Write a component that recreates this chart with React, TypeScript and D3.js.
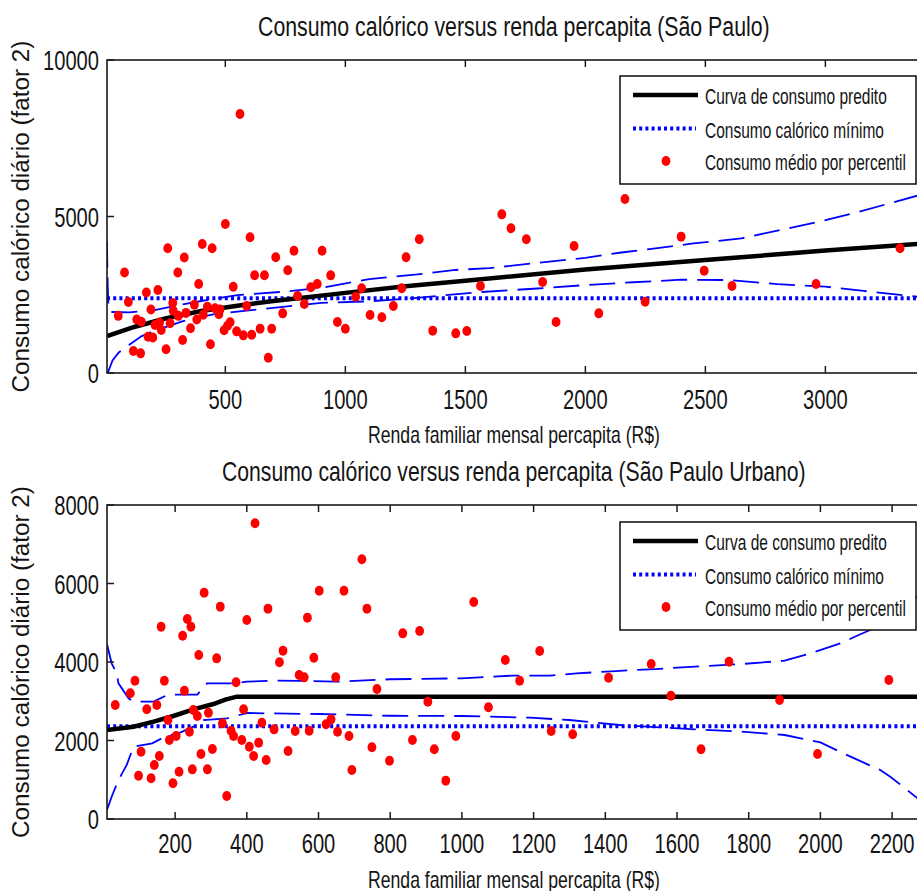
import React from 'react';
import * as d3 from 'd3';

// ---------- texts ----------
const title1 = 'Consumo calórico versus renda percapita (São Paulo)';
const title2 = 'Consumo calórico versus renda percapita (São Paulo Urbano)';
const xLabelText = 'Renda familiar mensal percapita (R$)';
const yLabelText = 'Consumo calórico diário (fator 2)';
const legendLabels = ['Curva de consumo predito', 'Consumo calórico mínimo', 'Consumo médio por percentil'];

// ---------- São Paulo (top) ----------
const spXTicks = [500, 1000, 1500, 2000, 2500, 3000];
const spYTicks = [0, 5000, 10000];
const spMinimum = 2385;
const spPredX = [7, 120, 250, 400, 550, 700, 850, 1000, 1250, 1500, 2000, 2500, 3000, 3390];
const spPredY = [1180, 1470, 1740, 1980, 2150, 2300, 2430, 2560, 2770, 2950, 3310, 3610, 3910, 4125];
const spUpX = [7, 8, 10, 13, 20, 100, 200, 300, 400, 550, 750, 900, 1100, 1300, 1450, 1600, 1800, 2000, 2150, 2300, 2450, 2650, 2800, 2970, 3140, 3390];
const spUpY = [4200, 3600, 2800, 2100, 1950, 1940, 2000, 2160, 2300, 2490, 2600, 2720, 3000, 3150, 3290, 3350, 3520, 3680, 3850, 3990, 4140, 4300, 4550, 4830, 5150, 5680];
const spLoX = [10, 20, 30, 55, 100, 150, 200, 260, 320, 380, 450, 550, 700, 900, 1100, 1300, 1550, 1800, 2000, 2200, 2400, 2600, 2800, 3000, 3150, 3390];
const spLoY = [0, 200, 400, 650, 900, 1170, 1340, 1490, 1650, 1760, 1870, 1960, 2080, 2240, 2290, 2400, 2580, 2700, 2810, 2900, 2980, 2970, 2840, 2760, 2630, 2430];
const spIncome = [561, 500, 603, 404, 445, 260, 329, 80, 302, 96, 171, 219, 389, 533, 622, 663, 710, 760, 786, 903, 939, 883, 856, 801, 829, 739, 589, 967, 1000, 1043, 1068, 1103, 1152, 1200, 1235, 1253, 1308, 1364, 1460, 54, 117, 147, 131, 150, 190, 178, 198, 207, 233, 226, 253, 270, 281, 283, 304, 322, 336, 355, 371, 381, 408, 425, 438, 457, 478, 473, 495, 509, 520, 547, 575, 610, 645, 693, 679, 1652, 1690, 1754, 1953, 2165, 2399, 2495, 3311, 1563, 1822, 2249, 2611, 2961, 1506, 1878, 2056];
const spCalories = [8275, 4760, 4335, 4121, 3983, 3983, 3690, 3210, 3210, 2270, 2572, 2652, 2843, 2758, 3125, 3125, 3700, 3280, 3908, 3908, 3120, 2843, 2737, 2460, 2204, 1906, 2140, 1629, 1416, 2438, 2705, 1853, 1779, 2141, 2705, 3696, 4271, 1353, 1267, 1826, 703, 628, 1710, 1640, 2030, 1160, 1135, 1534, 1374, 1613, 760, 1588, 2236, 1986, 1826, 1054, 1920, 1428, 2183, 1709, 1864, 2119, 920, 2066, 2029, 1880, 1363, 1507, 1624, 1331, 1203, 1220, 1417, 1417, 490, 5069, 4622, 4271, 4058, 5559, 4356, 3270, 3983, 2780, 2907, 2279, 2780, 2843, 1342, 1629, 1906];

// ---------- São Paulo Urbano (bottom) ----------
const spuXTicks = [200, 400, 600, 800, 1000, 1200, 1400, 1600, 1800, 2000, 2200];
const spuYTicks = [0, 2000, 4000, 6000, 8000];
const spuMinimum = 2360;
const spuPredX = [10, 84, 140, 195, 251, 307, 340, 372, 2275];
const spuPredY = [2268, 2352, 2480, 2624, 2794, 2930, 3040, 3117, 3117];
const spuUpX = [10, 23, 37, 42, 70, 84, 140, 180, 262, 289, 363, 400, 474, 550, 650, 800, 1000, 1139, 1246, 1320, 1430, 1540, 1650, 1780, 1900, 1972, 2056, 2110, 2160, 2220, 2275];
const spuUpY = [4450, 3966, 3712, 3457, 3075, 2989, 2989, 3167, 3167, 3457, 3457, 3499, 3525, 3520, 3500, 3560, 3584, 3652, 3652, 3711, 3770, 3821, 3881, 3949, 4033, 4222, 4476, 4700, 4900, 5300, 5700];
const spuLoX = [10, 23, 42, 65, 84, 136, 172, 214, 251, 279, 345, 400, 465, 600, 800, 1000, 1190, 1300, 1440, 1650, 1780, 1900, 2000, 2084, 2167, 2195, 2275];
const spuLoY = [229, 568, 994, 1376, 1843, 1928, 2097, 2200, 2352, 2520, 2565, 2700, 2690, 2675, 2630, 2624, 2582, 2522, 2395, 2284, 2225, 2140, 1950, 1588, 1248, 1078, 500];
const spuIncome = [423, 721, 281, 602, 671, 326, 459, 735, 400, 234, 244, 161, 221, 569, 835, 882, 266, 316, 501, 491, 587, 88, 170, 370, 546, 560, 648, 763, 226, 75, 33, 121, 149, 251, 262, 293, 180, 332, 391, 442, 905, 240, 356, 363, 386, 184, 203, 476, 535, 574, 621, 635, 653, 685, 862, 983, 105, 156, 272, 304, 407, 419, 433, 454, 515, 749, 798, 923, 142, 98, 133, 211, 248, 290, 194, 344, 693, 955, 1033, 1121, 1217, 1161, 1409, 1528, 1745, 2191, 1074, 1583, 1886, 1249, 1309, 1667, 1992];
const spuCalories = [7533, 6616, 5766, 5817, 5817, 5410, 5359, 5359, 5070, 5096, 4900, 4900, 4671, 5130, 4730, 4790, 4178, 4093, 4289, 3992, 4110, 3524, 3524, 3482, 3669, 3609, 3609, 3312, 3269, 3202, 2904, 2794, 2904, 2777, 2624, 2709, 2522, 2437, 2794, 2454, 2989, 2225, 2250, 2115, 2013, 2013, 2115, 2284, 2242, 2250, 2412, 2539, 2225, 2115, 2013, 2115, 1715, 1605, 1656, 1783, 1843, 1605, 1945, 1503, 1732, 1826, 1486, 1775, 1376, 1104, 1036, 1206, 1265, 1265, 909, 586, 1248, 977, 5529, 4051, 4280, 3524, 3600, 3949, 4008, 3541, 2845, 3142, 3032, 2242, 2157, 1775, 1656];

const FONT = '"Liberation Sans", Arial, Helvetica, sans-serif';
const TXT = '#141414';
const BLUE = '#0000ff';
const RED = '#ff0000';
const DIGIT_W = 11.2;

let measureCtx: CanvasRenderingContext2D | null = null;
function naturalWidth(text: string, size: number): number {
  if (!measureCtx && typeof document !== 'undefined') {
    measureCtx = document.createElement('canvas').getContext('2d');
  }
  if (!measureCtx) return text.length * size * 0.5;
  measureCtx.font = `${size}px ${FONT}`;
  const w = measureCtx.measureText(text).width;
  return w > 0 ? w : text.length * size * 0.5;
}

type TProps = { x: number; y: number; text: string; size: number; width: number; anchor?: 'start' | 'middle' | 'end'; rotate?: boolean };
function CText({ x, y, text, size, width, anchor = 'middle', rotate = false }: TProps) {
  const sx = width / naturalWidth(text, size);
  if (rotate) {
    return (
      <text transform={`translate(${x},${y}) rotate(-90) translate(${-width / 2},0) scale(${sx},1)`} x={0} y={0}
        fontSize={size} fontFamily={FONT} fill={TXT}>{text}</text>
    );
  }
  const startX = anchor === 'middle' ? x - width / 2 : anchor === 'end' ? x - width : x;
  return (
    <text transform={`translate(${startX},${y}) scale(${sx},1)`} x={0} y={0} fontSize={size} fontFamily={FONT} fill={TXT}>{text}</text>
  );
}

type PanelProps = {
  id: string;
  top: number; bottom: number; left: number; right: number;
  xDomain: [number, number]; yMax: number;
  xTicks: number[]; yTicks: number[];
  title: string; titleWidth: number; titleBase: number;
  xLabelBase: number; tickBase: number;
  minimum: number;
  predX: number[]; predY: number[];
  upX: number[]; upY: number[];
  loX: number[]; loY: number[];
  dotX: number[]; dotY: number[];
  legendTop: number;
};

function Panel(p: PanelProps) {
  const x = d3.scaleLinear().domain(p.xDomain).range([p.left, p.right]);
  const y = d3.scaleLinear().domain([0, p.yMax]).range([p.bottom, p.top]);
  const line = d3.line<[number, number]>().x(d => x(d[0])).y(d => y(d[1]));
  const zip = (a: number[], b: number[]) => a.map((v, i) => [v, b[i]] as [number, number]);
  const predPath = line(zip(p.predX, p.predY)) || '';
  const upPath = line(zip(p.upX, p.upY)) || '';
  const loPath = line(zip(p.loX, p.loY)) || '';
  const minPath = line([[p.xDomain[0], p.minimum], [p.xDomain[1], p.minimum]]) || '';
  const cx = (p.left + 917) / 2 + 2;
  const tick = 7;
  const lgX = 620, lgW = 296, lgH = 108;
  const rows = [19, 52.5, 85];
  return (
    <g>
      <defs>
        <clipPath id={`clip-${p.id}`}>
          <rect x={p.left} y={p.top} width={p.right - p.left} height={p.bottom - p.top} />
        </clipPath>
      </defs>
      <CText x={cx} y={p.titleBase} text={p.title} size={27} width={p.titleWidth} />
      <g clipPath={`url(#clip-${p.id})`}>
        <path d={upPath} fill="none" stroke={BLUE} strokeWidth={1.8} strokeDasharray="26,10" />
        <path d={loPath} fill="none" stroke={BLUE} strokeWidth={1.8} strokeDasharray="26,10" />
        <path d={minPath} fill="none" stroke={BLUE} strokeWidth={4} strokeDasharray="3,3.2" />
        <path d={predPath} fill="none" stroke="#000" strokeWidth={4.5} />
        {p.dotX.map((v, i) => (
          <ellipse key={i} cx={x(v)} cy={y(p.dotY[i])} rx={4.4} ry={5} fill={RED} />
        ))}
      </g>
      <rect x={p.left} y={p.top} width={p.right - p.left} height={p.bottom - p.top} fill="none" stroke="#1a1a1a" strokeWidth={1.6} />
      {p.xTicks.map(t => (
        <g key={`xt${t}`}>
          <line x1={x(t)} x2={x(t)} y1={p.bottom} y2={p.bottom - tick} stroke="#1a1a1a" strokeWidth={1.5} />
          <line x1={x(t)} x2={x(t)} y1={p.top} y2={p.top + tick} stroke="#1a1a1a" strokeWidth={1.5} />
          <CText x={x(t)} y={p.tickBase} text={String(t)} size={28} width={String(t).length * DIGIT_W} />
        </g>
      ))}
      {p.yTicks.map(t => (
        <g key={`yt${t}`}>
          <line x1={p.left} x2={p.left + tick} y1={y(t)} y2={y(t)} stroke="#1a1a1a" strokeWidth={1.5} />
          <CText x={99} y={y(t) + 10} text={String(t)} size={28} width={String(t).length * DIGIT_W} anchor="end" />
        </g>
      ))}
      <CText x={cx} y={p.xLabelBase} text={xLabelText} size={23} width={292} />
      <CText x={29} y={(p.top + p.bottom) / 2} text={yLabelText} size={24} width={352} rotate />
      <g>
        <rect x={lgX} y={p.legendTop} width={lgW} height={lgH} fill="#fff" stroke="#1a1a1a" strokeWidth={1.6} />
        <line x1={633} x2={698} y1={p.legendTop + rows[0]} y2={p.legendTop + rows[0]} stroke="#000" strokeWidth={4.5} />
        <line x1={633} x2={696} y1={p.legendTop + rows[1]} y2={p.legendTop + rows[1]} stroke={BLUE} strokeWidth={4} strokeDasharray="3,3.2" />
        <ellipse cx={666} cy={p.legendTop + rows[2]} rx={4.4} ry={5} fill={RED} />
        <CText x={705} y={p.legendTop + rows[0] + 9} text={legendLabels[0]} size={22} width={182} anchor="start" />
        <CText x={705} y={p.legendTop + rows[1] + 9} text={legendLabels[1]} size={22} width={179} anchor="start" />
        <CText x={705} y={p.legendTop + rows[2] + 9} text={legendLabels[2]} size={22} width={201} anchor="start" />
      </g>
    </g>
  );
}

export default function App() {
  return (
    <div style={{ position: 'absolute', left: 0, top: 0, background: '#fff' }}>
      <svg width={917} height={891} style={{ display: 'block', background: '#fff' }}>
        <Panel id="sp" top={60} bottom={373} left={107} right={919} xDomain={[7, 3390]} yMax={10000}
          xTicks={spXTicks} yTicks={spYTicks} title={title1} titleWidth={512} titleBase={36}
          xLabelBase={443} tickBase={409} minimum={spMinimum}
          predX={spPredX} predY={spPredY} upX={spUpX} upY={spUpY} loX={spLoX} loY={spLoY}
          dotX={spIncome} dotY={spCalories} legendTop={76} />
        <Panel id="spu" top={505} bottom={819} left={107} right={919} xDomain={[10, 2275]} yMax={8000}
          xTicks={spuXTicks} yTicks={spuYTicks} title={title2} titleWidth={584} titleBase={481}
          xLabelBase={888} tickBase={853} minimum={spuMinimum}
          predX={spuPredX} predY={spuPredY} upX={spuUpX} upY={spuUpY} loX={spuLoX} loY={spuLoY}
          dotX={spuIncome} dotY={spuCalories} legendTop={522} />
      </svg>
    </div>
  );
}
